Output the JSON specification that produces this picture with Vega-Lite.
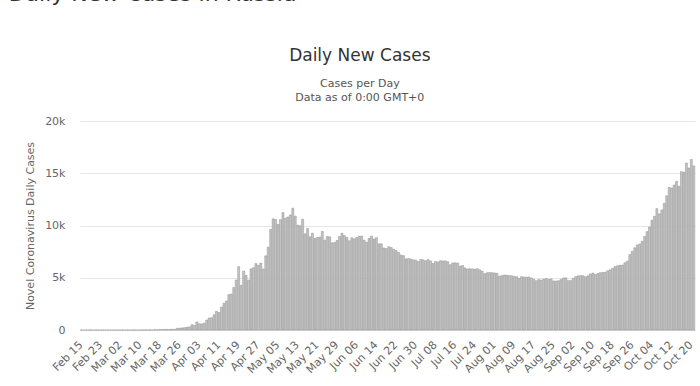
{
  "$schema": "https://vega.github.io/schema/vega-lite/v6.json",
  "padding": {"left": 8, "top": -17, "right": 5, "bottom": 0},
  "background": "white",
  "title": {
    "text": "Daily New Cases in Russia",
    "anchor": "start",
    "frame": "bounds",
    "fontSize": 22,
    "fontWeight": "normal",
    "color": "#333333",
    "offset": 41,
    "dx": -16
  },
  "vconcat": [
    {
      "width": 615,
      "height": 209,
      "title": {
        "text": "Daily New Cases",
        "subtitle": ["Cases per Day", "Data as of 0:00 GMT+0"],
        "anchor": "middle",
        "frame": "bounds",
        "fontSize": 17,
        "fontWeight": "normal",
        "color": "#333333",
        "subtitleFontSize": 11,
        "subtitleColor": "#555555",
        "subtitlePadding": 13,
        "subtitleLineHeight": 14,
        "offset": 11
      },
      "data": {
        "values": [
          {"d": "Feb 15", "v": 0}, {"d": "Feb 16", "v": 0}, {"d": "Feb 17", "v": 0}, {"d": "Feb 18", "v": 0}, {"d": "Feb 19", "v": 0},
          {"d": "Feb 20", "v": 0}, {"d": "Feb 21", "v": 0}, {"d": "Feb 22", "v": 0}, {"d": "Feb 23", "v": 0}, {"d": "Feb 24", "v": 0},
          {"d": "Feb 25", "v": 0}, {"d": "Feb 26", "v": 0}, {"d": "Feb 27", "v": 0}, {"d": "Feb 28", "v": 0}, {"d": "Feb 29", "v": 0},
          {"d": "Mar 01", "v": 0}, {"d": "Mar 02", "v": 1}, {"d": "Mar 03", "v": 0}, {"d": "Mar 04", "v": 0}, {"d": "Mar 05", "v": 0},
          {"d": "Mar 06", "v": 1}, {"d": "Mar 07", "v": 6}, {"d": "Mar 08", "v": 3}, {"d": "Mar 09", "v": 0}, {"d": "Mar 10", "v": 3},
          {"d": "Mar 11", "v": 8}, {"d": "Mar 12", "v": 6}, {"d": "Mar 13", "v": 11}, {"d": "Mar 14", "v": 14}, {"d": "Mar 15", "v": 4},
          {"d": "Mar 16", "v": 30}, {"d": "Mar 17", "v": 21}, {"d": "Mar 18", "v": 33}, {"d": "Mar 19", "v": 52}, {"d": "Mar 20", "v": 54},
          {"d": "Mar 21", "v": 53}, {"d": "Mar 22", "v": 61}, {"d": "Mar 23", "v": 71}, {"d": "Mar 24", "v": 57}, {"d": "Mar 25", "v": 163},
          {"d": "Mar 26", "v": 182}, {"d": "Mar 27", "v": 196}, {"d": "Mar 28", "v": 228}, {"d": "Mar 29", "v": 270}, {"d": "Mar 30", "v": 302},
          {"d": "Mar 31", "v": 501}, {"d": "Apr 01", "v": 440}, {"d": "Apr 02", "v": 771}, {"d": "Apr 03", "v": 601}, {"d": "Apr 04", "v": 582},
          {"d": "Apr 05", "v": 658}, {"d": "Apr 06", "v": 954}, {"d": "Apr 07", "v": 1154}, {"d": "Apr 08", "v": 1175}, {"d": "Apr 09", "v": 1459},
          {"d": "Apr 10", "v": 1786}, {"d": "Apr 11", "v": 1667}, {"d": "Apr 12", "v": 2186}, {"d": "Apr 13", "v": 2558}, {"d": "Apr 14", "v": 2774},
          {"d": "Apr 15", "v": 3388}, {"d": "Apr 16", "v": 3448}, {"d": "Apr 17", "v": 4070}, {"d": "Apr 18", "v": 4785}, {"d": "Apr 19", "v": 6060},
          {"d": "Apr 20", "v": 4268}, {"d": "Apr 21", "v": 5642}, {"d": "Apr 22", "v": 5236}, {"d": "Apr 23", "v": 4774}, {"d": "Apr 24", "v": 5849},
          {"d": "Apr 25", "v": 5966}, {"d": "Apr 26", "v": 6361}, {"d": "Apr 27", "v": 6198}, {"d": "Apr 28", "v": 6411}, {"d": "Apr 29", "v": 5841},
          {"d": "Apr 30", "v": 7099}, {"d": "May 01", "v": 7933}, {"d": "May 02", "v": 9623}, {"d": "May 03", "v": 10633}, {"d": "May 04", "v": 10581},
          {"d": "May 05", "v": 10102}, {"d": "May 06", "v": 10559}, {"d": "May 07", "v": 11231}, {"d": "May 08", "v": 10699}, {"d": "May 09", "v": 10817},
          {"d": "May 10", "v": 11012}, {"d": "May 11", "v": 11656}, {"d": "May 12", "v": 10899}, {"d": "May 13", "v": 10028}, {"d": "May 14", "v": 9974},
          {"d": "May 15", "v": 10598}, {"d": "May 16", "v": 9200}, {"d": "May 17", "v": 9709}, {"d": "May 18", "v": 8926}, {"d": "May 19", "v": 9263},
          {"d": "May 20", "v": 8764}, {"d": "May 21", "v": 8849}, {"d": "May 22", "v": 8894}, {"d": "May 23", "v": 9434}, {"d": "May 24", "v": 8599},
          {"d": "May 25", "v": 8946}, {"d": "May 26", "v": 8915}, {"d": "May 27", "v": 8338}, {"d": "May 28", "v": 8371}, {"d": "May 29", "v": 8572},
          {"d": "May 30", "v": 8952}, {"d": "May 31", "v": 9268}, {"d": "Jun 01", "v": 9035}, {"d": "Jun 02", "v": 8863}, {"d": "Jun 03", "v": 8536},
          {"d": "Jun 04", "v": 8831}, {"d": "Jun 05", "v": 8726}, {"d": "Jun 06", "v": 8855}, {"d": "Jun 07", "v": 8984}, {"d": "Jun 08", "v": 8985},
          {"d": "Jun 09", "v": 8595}, {"d": "Jun 10", "v": 8404}, {"d": "Jun 11", "v": 8779}, {"d": "Jun 12", "v": 8987}, {"d": "Jun 13", "v": 8706},
          {"d": "Jun 14", "v": 8835}, {"d": "Jun 15", "v": 8246}, {"d": "Jun 16", "v": 8248}, {"d": "Jun 17", "v": 7843}, {"d": "Jun 18", "v": 7790},
          {"d": "Jun 19", "v": 7972}, {"d": "Jun 20", "v": 7889}, {"d": "Jun 21", "v": 7728}, {"d": "Jun 22", "v": 7600}, {"d": "Jun 23", "v": 7425},
          {"d": "Jun 24", "v": 7176}, {"d": "Jun 25", "v": 7113}, {"d": "Jun 26", "v": 6800}, {"d": "Jun 27", "v": 6852}, {"d": "Jun 28", "v": 6791},
          {"d": "Jun 29", "v": 6719}, {"d": "Jun 30", "v": 6693}, {"d": "Jul 01", "v": 6556}, {"d": "Jul 02", "v": 6760}, {"d": "Jul 03", "v": 6718},
          {"d": "Jul 04", "v": 6632}, {"d": "Jul 05", "v": 6736}, {"d": "Jul 06", "v": 6611}, {"d": "Jul 07", "v": 6368}, {"d": "Jul 08", "v": 6562},
          {"d": "Jul 09", "v": 6509}, {"d": "Jul 10", "v": 6635}, {"d": "Jul 11", "v": 6611}, {"d": "Jul 12", "v": 6615}, {"d": "Jul 13", "v": 6537},
          {"d": "Jul 14", "v": 6248}, {"d": "Jul 15", "v": 6422}, {"d": "Jul 16", "v": 6428}, {"d": "Jul 17", "v": 6406}, {"d": "Jul 18", "v": 6109},
          {"d": "Jul 19", "v": 6170}, {"d": "Jul 20", "v": 5940}, {"d": "Jul 21", "v": 5842}, {"d": "Jul 22", "v": 5862}, {"d": "Jul 23", "v": 5848},
          {"d": "Jul 24", "v": 5811}, {"d": "Jul 25", "v": 5871}, {"d": "Jul 26", "v": 5765}, {"d": "Jul 27", "v": 5635}, {"d": "Jul 28", "v": 5395},
          {"d": "Jul 29", "v": 5475}, {"d": "Jul 30", "v": 5509}, {"d": "Jul 31", "v": 5482}, {"d": "Aug 01", "v": 5462}, {"d": "Aug 02", "v": 5427},
          {"d": "Aug 03", "v": 5159}, {"d": "Aug 04", "v": 5204}, {"d": "Aug 05", "v": 5267}, {"d": "Aug 06", "v": 5241}, {"d": "Aug 07", "v": 5212},
          {"d": "Aug 08", "v": 5189}, {"d": "Aug 09", "v": 5118}, {"d": "Aug 10", "v": 5102}, {"d": "Aug 11", "v": 4945}, {"d": "Aug 12", "v": 5102},
          {"d": "Aug 13", "v": 5057}, {"d": "Aug 14", "v": 5065}, {"d": "Aug 15", "v": 5061}, {"d": "Aug 16", "v": 4969}, {"d": "Aug 17", "v": 4839},
          {"d": "Aug 18", "v": 4718}, {"d": "Aug 19", "v": 4828}, {"d": "Aug 20", "v": 4767}, {"d": "Aug 21", "v": 4870}, {"d": "Aug 22", "v": 4921},
          {"d": "Aug 23", "v": 4852}, {"d": "Aug 24", "v": 4892}, {"d": "Aug 25", "v": 4696}, {"d": "Aug 26", "v": 4676}, {"d": "Aug 27", "v": 4711},
          {"d": "Aug 28", "v": 4829}, {"d": "Aug 29", "v": 4980}, {"d": "Aug 30", "v": 4993}, {"d": "Aug 31", "v": 4729}, {"d": "Sep 01", "v": 4729},
          {"d": "Sep 02", "v": 4952}, {"d": "Sep 03", "v": 5110}, {"d": "Sep 04", "v": 5185}, {"d": "Sep 05", "v": 5205}, {"d": "Sep 06", "v": 5195},
          {"d": "Sep 07", "v": 5099}, {"d": "Sep 08", "v": 5185}, {"d": "Sep 09", "v": 5363}, {"d": "Sep 10", "v": 5449}, {"d": "Sep 11", "v": 5310},
          {"d": "Sep 12", "v": 5406}, {"d": "Sep 13", "v": 5488}, {"d": "Sep 14", "v": 5509}, {"d": "Sep 15", "v": 5529}, {"d": "Sep 16", "v": 5670},
          {"d": "Sep 17", "v": 5762}, {"d": "Sep 18", "v": 5905}, {"d": "Sep 19", "v": 6065}, {"d": "Sep 20", "v": 6148}, {"d": "Sep 21", "v": 6196},
          {"d": "Sep 22", "v": 6215}, {"d": "Sep 23", "v": 6431}, {"d": "Sep 24", "v": 6595}, {"d": "Sep 25", "v": 7212}, {"d": "Sep 26", "v": 7523},
          {"d": "Sep 27", "v": 7867}, {"d": "Sep 28", "v": 8135}, {"d": "Sep 29", "v": 8232}, {"d": "Sep 30", "v": 8481}, {"d": "Oct 01", "v": 8945},
          {"d": "Oct 02", "v": 9412}, {"d": "Oct 03", "v": 9859}, {"d": "Oct 04", "v": 10499}, {"d": "Oct 05", "v": 10888}, {"d": "Oct 06", "v": 11615},
          {"d": "Oct 07", "v": 11115}, {"d": "Oct 08", "v": 11493}, {"d": "Oct 09", "v": 12126}, {"d": "Oct 10", "v": 12846}, {"d": "Oct 11", "v": 13634},
          {"d": "Oct 12", "v": 13592}, {"d": "Oct 13", "v": 13868}, {"d": "Oct 14", "v": 14231}, {"d": "Oct 15", "v": 13754}, {"d": "Oct 16", "v": 15150},
          {"d": "Oct 17", "v": 15099}, {"d": "Oct 18", "v": 15982}, {"d": "Oct 19", "v": 15500}, {"d": "Oct 20", "v": 16319}, {"d": "Oct 21", "v": 15700}
        ]
      },
      "mark": {"type": "bar", "color": "#c4c4c4", "stroke": "#909090", "strokeWidth": 0.5},
      "encoding": {
        "x": {
          "field": "d",
          "type": "ordinal",
          "sort": null,
          "scale": {"paddingInner": 0.2, "paddingOuter": 0.1},
          "axis": {
            "title": null,
            "values": ["Feb 15", "Feb 23", "Mar 02", "Mar 10", "Mar 18", "Mar 26", "Apr 03", "Apr 11", "Apr 19", "Apr 27", "May 05", "May 13", "May 21", "May 29", "Jun 06", "Jun 14", "Jun 22", "Jun 30", "Jul 08", "Jul 16", "Jul 24", "Aug 01", "Aug 09", "Aug 17", "Aug 25", "Sep 02", "Sep 10", "Sep 18", "Sep 26", "Oct 04", "Oct 12", "Oct 20"],
            "labelAngle": -45,
            "labelAlign": "right",
            "labelBaseline": "middle",
            "labelPadding": 13,
            "labelFontSize": 11,
            "labelColor": "#666666",
            "ticks": false,
            "domainColor": "#d8d8d8",
            "grid": false,
            "labelOverlap": false
          }
        },
        "y": {
          "field": "v",
          "type": "quantitative",
          "scale": {"domain": [0, 20000], "nice": false},
          "axis": {
            "title": "Novel Coronavirus Daily Cases",
            "titleFontSize": 11,
            "titleFontWeight": "normal",
            "titleColor": "#666666",
            "titlePadding": 9,
            "values": [0, 5000, 10000, 15000, 20000],
            "labelExpr": "datum.value == 0 ? '0' : format(datum.value / 1000, 'd') + 'k'",
            "labelFontSize": 11,
            "labelColor": "#666666",
            "labelPadding": 15,
            "ticks": false,
            "domain": false,
            "gridColor": "#e6e6e6"
          }
        }
      }
    }
  ],
  "config": {
    "font": "DejaVu Sans",
    "view": {"stroke": null}
  }
}
